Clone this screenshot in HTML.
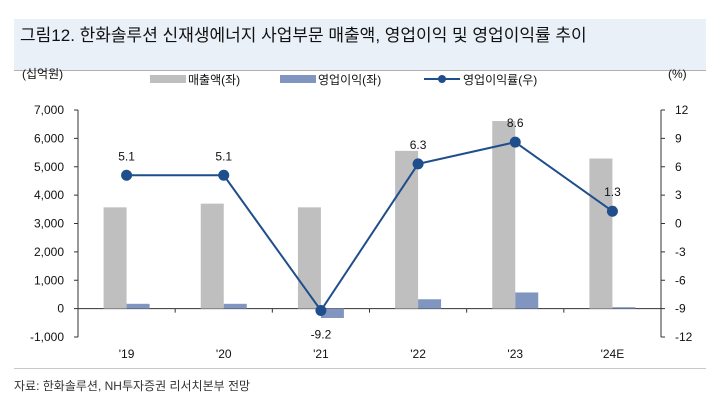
<!DOCTYPE html>
<html><head><meta charset="utf-8"><style>
body{margin:0;background:#fff;font-family:"Liberation Sans","Noto Sans CJK KR",sans-serif;}
#wrap{position:relative;width:715px;height:400px;overflow:hidden}
#title{position:absolute;left:14px;top:19px;width:692px;height:52px;background:#e9f0f8;border-bottom:1px solid #b0b0b0;box-sizing:border-box;padding:0 0 0 6px;font-size:17px;line-height:33px;color:#111}
#src{position:absolute;left:14px;top:377px;font-size:12px;color:#333}
#line2{position:absolute;left:14px;top:368px;width:692px;border-top:1px solid #c8c8c8}
</style></head><body><div id="wrap">
<div id="title">그림12. 한화솔루션 신재생에너지 사업부문 매출액, 영업이익 및 영업이익률 추이</div>
<svg id="svg" width="715" height="400" style="position:absolute;left:0;top:0"></svg>
<div id="line2"></div>
<div id="src">자료: 한화솔루션, NH투자증권 리서치본부 전망</div>
</div>
<script>
const categories=["'19","'20","'21","'22","'23","'24E"];
const sales=[3570,3700,3570,5560,6610,5290];
const opProfit=[170,170,-330,330,570,50];
const margin=[5.1,5.1,-9.2,6.3,8.6,1.3];
const leftTicks=[7000,6000,5000,4000,3000,2000,1000,0,-1000];
const rightTicks=[12,9,6,3,0,-3,-6,-9,-12];
const NS="http://www.w3.org/2000/svg";
const svg=document.getElementById('svg');
const X0=78,X1=661,YT=110,YB=337;
const yL=v=>YB-(v+1000)/8000*(YB-YT);
const yR=v=>YB-(v+12)/24*(YB-YT);
const bw=(X1-X0)/categories.length;
const xc=i=>X0+bw*(i+0.5);
function el(t,a,txt){const e=document.createElementNS(NS,t);for(const k in a)e.setAttribute(k,a[k]);if(txt!=null)e.textContent=txt;svg.appendChild(e);return e;}
const fnt='"Liberation Sans","Noto Sans CJK KR",sans-serif';
let e=el('line',{x1:X0,y1:YT,x2:X0,y2:YB,stroke:'#333'});

e=el('line',{x1:X1,y1:YT,x2:X1,y2:YB,stroke:'#333'});

leftTicks.forEach(v=>{const y=yL(v);el('line',{x1:X0-4,y1:y,x2:X0,y2:y,stroke:'#333'});
e=el('text',{x:X0-14,y:y+4,'text-anchor':'end','font-size':12,'font-family':fnt,fill:'#111'},v.toLocaleString('en-US'));
});
rightTicks.forEach(v=>{const y=yR(v);el('line',{x1:X1,y1:y,x2:X1+4,y2:y,stroke:'#333'});
e=el('text',{x:X1+14,y:y+4,'font-size':12,'font-family':fnt,fill:'#111'},String(v));
});
e=el('line',{x1:X0,y1:yL(0),x2:X1,y2:yL(0),stroke:'#333'});

for(let i=1;i<categories.length;i++){el('line',{x1:X0+bw*i,y1:yL(0),x2:X0+bw*i,y2:yL(0)+4,stroke:'#333'});}
categories.forEach((c,i)=>{
 let g=el('rect',{x:xc(i)-23,y:Math.min(yL(sales[i]),yL(0)),width:23,height:Math.abs(yL(0)-yL(sales[i])),fill:'#bfbfbf'});
 
 g=el('rect',{x:xc(i),y:Math.min(yL(opProfit[i]),yL(0)),width:23,height:Math.abs(yL(0)-yL(opProfit[i])),fill:'#8096c0'});
 
 g=el('text',{x:xc(i),y:358,'text-anchor':'middle','font-size':12,'font-family':fnt,fill:'#111'},c);
 
});
e=el('polyline',{points:margin.map((v,i)=>xc(i)+','+yR(v)).join(' '),fill:'none',stroke:'#1f4e8c','stroke-width':2});

margin.forEach((v,i)=>{
 let c=el('circle',{cx:xc(i),cy:yR(v),r:5.5,fill:'#1f4e8c'});
 
 const ly=v<0?yR(v)+28:yR(v)-15;
 c=el('text',{x:xc(i),y:ly,'text-anchor':'middle','font-size':12,'font-family':fnt,fill:'#111'},v.toFixed(1));
 
});
e=el('text',{x:22,y:78,'font-size':12,'font-family':fnt,fill:'#111'},'(십억원)');

e=el('text',{x:668,y:78,'font-size':12,'font-family':fnt,fill:'#111'},'(%)');

el('rect',{x:150,y:75,width:36,height:8,fill:'#bfbfbf'});
e=el('text',{x:188,y:84,'font-size':12,'font-family':fnt,fill:'#111'},'매출액(좌)');

el('rect',{x:280,y:75,width:36,height:8,fill:'#8096c0'});
e=el('text',{x:318,y:84,'font-size':12,'font-family':fnt,fill:'#111'},'영업이익(좌)');

el('line',{x1:424,y1:79,x2:460,y2:79,stroke:'#1f4e8c','stroke-width':2});
el('circle',{cx:442,cy:79,r:4,fill:'#1f4e8c'});
e=el('text',{x:463,y:84,'font-size':12,'font-family':fnt,fill:'#111'},'영업이익률(우)');

</script></body></html>
